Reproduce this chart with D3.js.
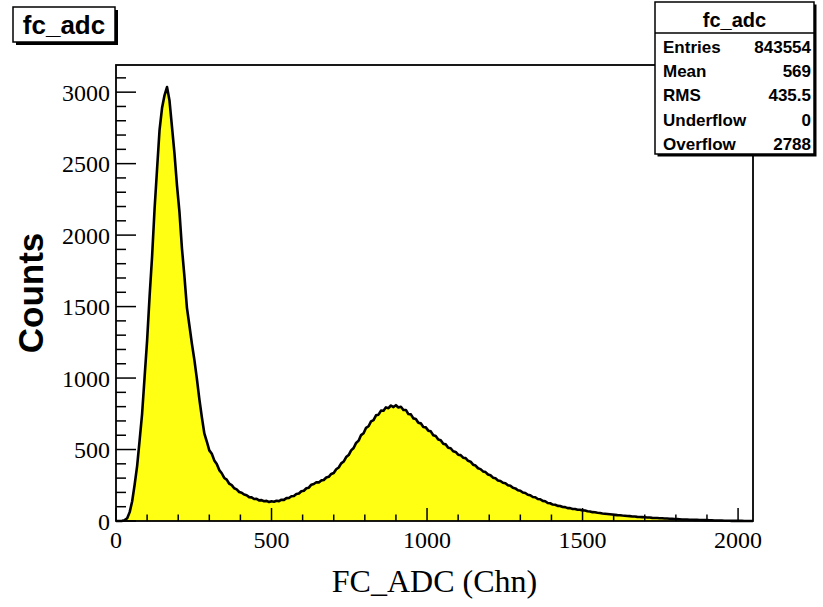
<!DOCTYPE html>
<html>
<head>
<meta charset="utf-8">
<script src="https://cdn.jsdelivr.net/npm/d3@7"></script>
<style>
  body { margin: 0; background: #fff; }
  svg { display: block; }
</style>
</head>
<body>
<div id="chart-container"></div>
<script>
// histogram of fc_adc, 8 channels per bin, counts per channel
const binWidth = 8;
const counts = [
    0, 0, 1, 6, 19, 62, 138, 255, 386, 566, 752, 1008, 1262, 1571, 1849, 2183,
    2461, 2735, 2889, 2978, 3036, 2941, 2758, 2571, 2349, 2163, 1908, 1712, 1493, 1368, 1241, 1127,
    996, 852, 727, 613, 556, 494, 470, 424, 399, 356, 334, 301, 289, 261, 251, 229,
    221, 203, 198, 185, 180, 167, 165, 154, 155, 144, 146, 138, 141, 133, 138, 135,
    142, 139, 149, 148, 160, 161, 173, 175, 189, 192, 208, 212, 229, 233, 254, 259,
    271, 270, 284, 287, 304, 309, 329, 336, 362, 374, 403, 416, 447, 461, 494, 511,
    546, 562, 601, 614, 652, 663, 697, 706, 739, 744, 772, 771, 795, 789, 808, 797,
    810, 794, 799, 776, 777, 748, 746, 718, 714, 687, 683, 658, 655, 632, 627, 600,
    594, 570, 565, 540, 536, 513, 509, 488, 483, 464, 461, 443, 440, 421, 415, 394,
    388, 369, 363, 347, 342, 325, 320, 303, 299, 284, 280, 267, 264, 250, 246, 232,
    228, 215, 212, 199, 196, 184, 180, 168, 166, 154, 152, 141, 138, 126, 124, 115,
    114, 106, 105, 98, 97, 90, 90, 84, 84, 79, 79, 74, 73, 68, 67, 62,
    61, 58, 56, 53, 51, 49, 47, 45, 43, 41, 40, 38, 37, 35, 34, 32,
    31, 29, 28, 27, 26, 24, 24, 22, 21, 21, 19, 19, 17, 17, 16, 15,
    14, 13, 12, 11, 11, 10, 9, 9, 8, 8, 7, 7, 6, 6, 5, 5,
    4, 4, 3, 3, 2, 2, 2, 1, 1, 1, 1, 1, 0, 0, 0, 0
];

const xMajor = [0, 500, 1000, 1500, 2000];
const yMajor = [0, 500, 1000, 1500, 2000, 2500, 3000];

const statLabels = ["Entries", "Mean", "RMS", "Underflow", "Overflow"];
const statValues = ["843554", "569", "435.5", "0", "2788"];

const W = 823, H = 607;
const frame = { left: 116, right: 753, top: 65, bottom: 521 };

const x = d3.scaleLinear()
    .domain([0, 2048])
    .range([frame.left, frame.right]);

const y = d3.scaleLinear()
    .domain([0, 3190])
    .range([frame.bottom, frame.top]);

const svg = d3.select("#chart-container")
    .append("svg")
    .attr("width", W)
    .attr("height", H);

svg.append("rect")
    .attr("width", W)
    .attr("height", H)
    .attr("fill", "#fff");

// bin centres, closed at both ends of the range
const pts = counts.map((v, i) => ({ ch: i * binWidth + binWidth / 2, v: v }));
pts.unshift({ ch: 0, v: 0 });
pts.push({ ch: counts.length * binWidth, v: counts[counts.length - 1] });

const area = d3.area()
    .x(d => x(d.ch))
    .y0(y(0))
    .y1(d => y(d.v));

const line = d3.line()
    .x(d => x(d.ch))
    .y(d => y(d.v));

svg.append("path")
    .datum(pts)
    .attr("fill", "#ffff14")
    .attr("d", area);

svg.append("path")
    .datum(pts)
    .attr("fill", "none")
    .attr("stroke", "#000")
    .attr("stroke-width", 2.6)
    .attr("stroke-linejoin", "round")
    .attr("d", line);

// ticks (inside the frame, ROOT style)
const xMinor = d3.range(0, 2048, 100).filter(v => v % 500 !== 0);
const yMinor = d3.range(0, 3190, 100).filter(v => v % 500 !== 0);

svg.append("g")
    .selectAll("line")
    .data(xMajor.map(v => ({ v, len: 13 })).concat(xMinor.map(v => ({ v, len: 6.5 }))))
    .join("line")
    .attr("x1", d => x(d.v))
    .attr("x2", d => x(d.v))
    .attr("y1", frame.bottom)
    .attr("y2", d => frame.bottom - d.len)
    .attr("stroke", "#000")
    .attr("stroke-width", 1.5);

svg.append("g")
    .selectAll("line")
    .data(yMajor.map(v => ({ v, len: 20 })).concat(yMinor.map(v => ({ v, len: 10 }))))
    .join("line")
    .attr("x1", frame.left)
    .attr("x2", d => frame.left + d.len)
    .attr("y1", d => y(d.v))
    .attr("y2", d => y(d.v))
    .attr("stroke", "#000")
    .attr("stroke-width", 1.5);

// frame
svg.append("rect")
    .attr("x", frame.left)
    .attr("y", frame.top)
    .attr("width", frame.right - frame.left)
    .attr("height", frame.bottom - frame.top)
    .attr("fill", "none")
    .attr("stroke", "#000")
    .attr("stroke-width", 1.8);

// tick labels
svg.append("g")
    .selectAll("text")
    .data(xMajor)
    .join("text")
    .attr("x", d => x(d))
    .attr("y", frame.bottom + 27)
    .attr("text-anchor", "middle")
    .style("font-family", "'Liberation Serif', serif")
    .style("font-size", "24px")
    .text(d => d);

svg.append("g")
    .selectAll("text")
    .data(yMajor)
    .join("text")
    .attr("x", frame.left - 6)
    .attr("y", d => y(d))
    .attr("dy", "0.36em")
    .attr("text-anchor", "end")
    .style("font-family", "'Liberation Serif', serif")
    .style("font-size", "24px")
    .text(d => d);

// axis titles
svg.append("text")
    .attr("x", (frame.left + frame.right) / 2)
    .attr("y", 592)
    .attr("text-anchor", "middle")
    .style("font-family", "'Liberation Serif', serif")
    .style("font-size", "32px")
    .text("FC_ADC (Chn)");

svg.append("text")
    .attr("transform", `translate(43,${(frame.top + frame.bottom) / 2}) rotate(-90)`)
    .attr("text-anchor", "middle")
    .style("font-family", "'Liberation Sans', sans-serif")
    .style("font-weight", "bold")
    .style("font-size", "35px")
    .text("Counts");

// title box with shadow
const tb = { x: 13, y: 7, w: 102, h: 35 };
svg.append("rect")
    .attr("x", tb.x + 3).attr("y", tb.y + 3)
    .attr("width", tb.w).attr("height", tb.h)
    .attr("fill", "#000");
svg.append("rect")
    .attr("x", tb.x).attr("y", tb.y)
    .attr("width", tb.w).attr("height", tb.h)
    .attr("fill", "#fff")
    .attr("stroke", "#000")
    .attr("stroke-width", 1.5);
svg.append("text")
    .attr("x", tb.x + tb.w / 2)
    .attr("y", 34)
    .attr("text-anchor", "middle")
    .style("font-family", "'Liberation Sans', sans-serif")
    .style("font-weight", "bold")
    .style("font-size", "26px")
    .text("fc_adc");

// stats box
const sb = { x: 655, y: 2, w: 159, h: 152 };
svg.append("rect")
    .attr("x", sb.x + 2.5).attr("y", sb.y + 2.5)
    .attr("width", sb.w).attr("height", sb.h)
    .attr("fill", "#000");
svg.append("rect")
    .attr("x", sb.x).attr("y", sb.y)
    .attr("width", sb.w).attr("height", sb.h)
    .attr("fill", "#fff")
    .attr("stroke", "#000")
    .attr("stroke-width", 1.5);
svg.append("line")
    .attr("x1", sb.x).attr("x2", sb.x + sb.w)
    .attr("y1", 33).attr("y2", 33)
    .attr("stroke", "#000")
    .attr("stroke-width", 1.5);
svg.append("text")
    .attr("x", sb.x + sb.w / 2)
    .attr("y", 27)
    .attr("text-anchor", "middle")
    .style("font-family", "'Liberation Sans', sans-serif")
    .style("font-weight", "bold")
    .style("font-size", "20px")
    .text("fc_adc");

const stats = svg.append("g")
    .style("font-family", "'Liberation Sans', sans-serif")
    .style("font-weight", "bold")
    .style("font-size", "17px");

stats.selectAll(".lab")
    .data(statLabels)
    .join("text")
    .attr("class", "lab")
    .attr("x", 663)
    .attr("y", (d, i) => 53 + i * 24.2)
    .text(d => d);

stats.selectAll(".val")
    .data(statValues)
    .join("text")
    .attr("class", "val")
    .attr("x", 811)
    .attr("y", (d, i) => 53 + i * 24.2)
    .attr("text-anchor", "end")
    .text(d => d);
</script>
</body>
</html>
